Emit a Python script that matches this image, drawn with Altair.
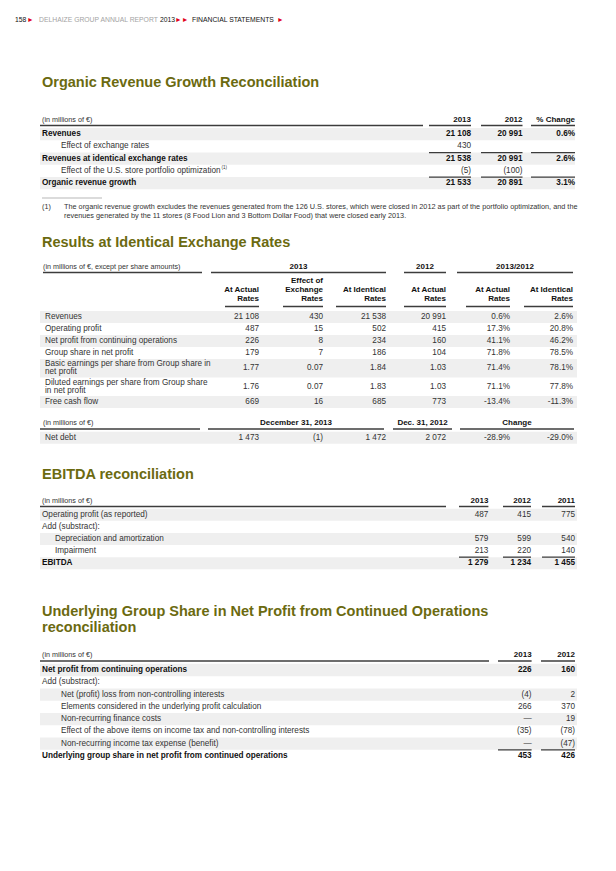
import altair as alt
import pandas as pd

FONT = "Liberation Sans"
OLIVE = "#6b6a10"
RED = "#e3001b"
BAND = "#efefef"
DARK = "#111111"
TXT = "#333333"
LINE = "#3c3c3c"

# ---------------- data ----------------
hdr_pieces = ["158", "►", "DELHAIZE GROUP ANNUAL REPORT", "2013", "►►", "FINANCIAL STATEMENTS", "►"]
hdr_colors = [DARK, RED, "#a3a3a3", DARK, RED, DARK, RED]

titles = ["Organic Revenue Growth Reconciliation",
          "Results at Identical Exchange Rates",
          "EBITDA reconciliation",
          "Underlying Group Share in Net Profit from Continued Operations",
          "reconciliation"]

# Table 1 : organic revenue growth
t1_cols = ["2013", "2012", "% Change"]
t1_labels = ["Revenues", "Effect of exchange rates", "Revenues at identical exchange rates",
             "Effect of the U.S. store portfolio optimization", "Organic revenue growth"]
t1_bold = [1, 0, 1, 0, 1]
t1_2013 = ["21 108", "430", "21 538", "(5)", "21 533"]
t1_2012 = ["20 991", "", "20 991", "(100)", "20 891"]
t1_chg = ["0.6%", "", "2.6%", "", "3.1%"]
foot_lines = ["The organic revenue growth excludes the revenues generated from the 126 U.S. stores, which were closed in 2012 as part of the portfolio optimization, and the",
              "revenues generated by the 11 stores (8 Food Lion and 3 Bottom Dollar Food) that were closed early 2013."]

# Table 2 : results at identical exchange rates
t2_groups = ["2013", "2012", "2013/2012"]
t2_sub = [["At Actual", "Rates"], ["Effect of", "Exchange", "Rates"], ["At Identical", "Rates"],
          ["At Actual", "Rates"], ["At Actual", "Rates"], ["At Identical", "Rates"]]
t2_labels = ["Revenues", "Operating profit", "Net profit from continuing operations",
             "Group share in net profit",
             "Basic earnings per share from Group share in\nnet profit",
             "Diluted earnings per share from Group share\nin net profit",
             "Free cash flow"]
t2_actual13 = ["21 108", "487", "226", "179", "1.77", "1.76", "669"]
t2_effect = ["430", "15", "8", "7", "0.07", "0.07", "16"]
t2_ident13 = ["21 538", "502", "234", "186", "1.84", "1.83", "685"]
t2_actual12 = ["20 991", "415", "160", "104", "1.03", "1.03", "773"]
t2_chg_act = ["0.6%", "17.3%", "41.1%", "71.8%", "71.4%", "71.1%", "-13.4%"]
t2_chg_ident = ["2.6%", "20.8%", "46.2%", "78.5%", "78.1%", "77.8%", "-11.3%"]
nd_groups = ["December 31, 2013", "Dec. 31, 2012", "Change"]
nd_label = "Net debt"
nd_values = ["1 473", "(1)", "1 472", "2 072", "-28.9%", "-29.0%"]

# Table 3 : EBITDA
t3_cols = ["2013", "2012", "2011"]
t3_labels = ["Operating profit (as reported)", "Add (substract):", "Depreciation and amortization",
             "Impairment", "EBITDA"]
t3_bold = [0, 0, 0, 0, 1]
t3_indent = [0, 0, 1, 1, 0]
t3_2013 = ["487", "", "579", "213", "1 279"]
t3_2012 = ["415", "", "599", "220", "1 234"]
t3_2011 = ["775", "", "540", "140", "1 455"]

# Table 4 : underlying group share
t4_cols = ["2013", "2012"]
t4_labels = ["Net profit from continuing operations", "Add (substract):",
             "Net (profit) loss from non-controlling interests",
             "Elements considered in the underlying profit calculation",
             "Non-recurring finance costs",
             "Effect of the above items on income tax and non-controlling interests",
             "Non-recurring income tax expense (benefit)",
             "Underlying group share in net profit from continued operations"]
t4_bold = [1, 0, 0, 0, 0, 0, 0, 1]
t4_indent = [0, 0, 1, 1, 1, 1, 1, 0]
t4_2013 = ["226", "", "(4)", "266", "—", "(35)", "—", "453"]
t4_2012 = ["160", "", "2", "370", "19", "(78)", "(47)", "426"]

# ---------------- layout ----------------
texts, rules, rects = [], [], []


def T(x, y, s, size=8.2, color=TXT, align="left", weight="normal"):
    texts.append(dict(x=x, y=y, text=s, size=size, color=color, align=align, weight=weight))


def R(x, x2, y, w=1.5, color=LINE):
    rules.append(dict(x=x, x2=x2, y=y, w=w, color=color))


def B(x, x2, y, y2, color=BAND):
    rects.append(dict(x=x, x2=x2, y=y, y2=y2, color=color))


# page header
hdr_x = [15, 27, 39, 160, 175, 192, 277]
for s, c, x in zip(hdr_pieces, hdr_colors, hdr_x):
    T(x, 20, s, 6.8, c)

LX = 42
title_y = [83, 243, 475, 612, 628]
for s, y in zip(titles, title_y):
    T(LX, y, s, 14.5, OLIVE, weight="bold")

# ---- table 1
r1 = [471, 522.5, 575]
l1 = [429, 481, 531]
T(LX, 120, "(in millions of €)", 7.2)
for s, x in zip(t1_cols, r1):
    T(x, 120, s, 8, DARK, "right", "bold")
R(40, 423, 125.5)
for a, b in zip(l1, r1):
    R(a, b, 125.5)
y0, st = 134.2, 12.25
for i, lab in enumerate(t1_labels):
    y = y0 + i * st
    bold = t1_bold[i] == 1
    if bold:
        B(40, 575, y - st / 2, y + st / 2)
    col = DARK if bold else TXT
    w = "bold" if bold else "normal"
    T(LX if bold else 61, y, lab, 8.2, col, "left", w)
    for v, x in zip([t1_2013[i], t1_2012[i], t1_chg[i]], r1):
        if v:
            T(x, y, v, 8.2, col, "right", w)
T(221.5, y0 + 3 * st - 3, "(1)", 4.5)
for k in (1, 3):
    ys = y0 + (k + 0.5) * st
    for a, b in zip(l1, r1):
        R(a, b, ys, 1.3)
R(42, 102, 198, 0.6, "#888888")
T(LX, 207, "(1)", 7.2)
T(64, 207, foot_lines[0], 7.3)
T(64, 215.5, foot_lines[1], 7.3)

# ---- table 2
r2 = [259, 323, 386, 446, 510, 573]
sl2 = [225, 283, 336, 404, 466, 524]
T(43, 267, "(in millions of €, except per share amounts)", 7.2)
g2 = [(211, 386), (404, 446), (457, 573)]
for s, (a, b) in zip(t2_groups, g2):
    T((a + b) / 2, 267, s, 8, DARK, "center", "bold")
    R(a, b, 272.5)
R(43, 202, 272.5)
for j, lines in enumerate(t2_sub):
    n = len(lines)
    for k, s in enumerate(lines):
        T(r2[j], 299 - (n - 1 - k) * 9, s, 8, DARK, "right", "bold")
    R(sl2[j], r2[j], 306.5)
heights = [12, 12, 12, 12, 18.5, 18.5, 12]
top = 311
cols2 = [t2_actual13, t2_effect, t2_ident13, t2_actual12, t2_chg_act, t2_chg_ident]
for i, lab in enumerate(t2_labels):
    h = heights[i]
    yc = top + h / 2
    if i % 2 == 0:
        B(40, 577, top, top + h)
    parts = lab.split("\n")
    for k, s in enumerate(parts):
        T(45, yc + (k - (len(parts) - 1) / 2) * 8.2, s)
    for c, x in zip(cols2, r2):
        T(x, yc, c[i], 8.2, TXT, "right")
    top += h

T(43, 423, "(in millions of €)", 7.2)
gnd = [(208, 384), (393, 452), (460, 574)]
for s, (a, b) in zip(nd_groups, gnd):
    T((a + b) / 2, 423, s, 8, DARK, "center", "bold")
    R(a, b, 429)
R(40, 200, 429)
B(40, 577, 431.7, 443.7)
T(45, 437.7, nd_label)
for v, x in zip(nd_values, r2):
    T(x, 437.7, v, 8.2, TXT, "right")

# ---- table 3
r3 = [488.4, 531, 575]
l3 = [459, 503, 542]
T(LX, 501, "(in millions of €)", 7.2)
for s, x in zip(t3_cols, r3):
    T(x, 501, s, 8, DARK, "right", "bold")
R(40, 446, 506.5)
for a, b in zip(l3, r3):
    R(a, b, 506.5)
y0, st = 514.8, 12.1
for i, lab in enumerate(t3_labels):
    y = y0 + i * st
    bold = t3_bold[i] == 1
    if i % 2 == 0:
        B(40, 577, y - st / 2, y + st / 2)
    col = DARK if bold else TXT
    w = "bold" if bold else "normal"
    T(55 if t3_indent[i] else LX, y, lab, 8.2, col, "left", w)
    for v, x in zip([t3_2013[i], t3_2012[i], t3_2011[i]], r3):
        if v:
            T(x, y, v, 8.2, col, "right", w)
for a, b in zip(l3, r3):
    R(a, b, y0 + 3.5 * st, 1.3)

# ---- table 4
r4 = [531.6, 575]
l4 = [498, 541]
T(LX, 655, "(in millions of €)", 7.2)
for s, x in zip(t4_cols, r4):
    T(x, 655, s, 8, DARK, "right", "bold")
R(40, 489, 661)
for a, b in zip(l4, r4):
    R(a, b, 661)
y0, st = 670, 12.28
for i, lab in enumerate(t4_labels):
    y = y0 + i * st
    bold = t4_bold[i] == 1
    if i % 2 == 0:
        B(40, 577, y - st / 2, y + st / 2)
    col = DARK if bold else TXT
    w = "bold" if bold else "normal"
    T(61 if t4_indent[i] else LX, y, lab, 8.2, col, "left", w)
    for v, x in zip([t4_2013[i], t4_2012[i]], r4):
        if v:
            T(x, y, v, 8.2, col, "right", w)
for a, b in zip(l4, r4):
    R(a, b, y0 + 6.5 * st, 1.3)

# ---------------- chart ----------------
XS = alt.Scale(domain=[8, 608], range=[0, 600])
YS = alt.Scale(domain=[8, 863], range=[0, 855])

tdf = pd.DataFrame(texts)
rdf = pd.DataFrame(rules)
bdf = pd.DataFrame(rects)

band_layer = alt.Chart(bdf).mark_rect().encode(
    x=alt.X("x:Q", scale=XS, axis=None), x2="x2:Q",
    y=alt.Y("y:Q", scale=YS, axis=None), y2="y2:Q",
    color=alt.Color("color:N", scale=None))

rule_layer = alt.Chart(rdf).mark_rule().encode(
    x=alt.X("x:Q", scale=XS, axis=None), x2="x2:Q",
    y=alt.Y("y:Q", scale=YS, axis=None),
    strokeWidth=alt.StrokeWidth("w:Q", scale=None),
    color=alt.Color("color:N", scale=None))

layers = [band_layer, rule_layer]
for (al, wt), g in tdf.groupby(["align", "weight"]):
    layers.append(
        alt.Chart(g.reset_index(drop=True)).mark_text(
            align=al, baseline="middle", font=FONT, fontWeight=wt).encode(
            x=alt.X("x:Q", scale=XS, axis=None),
            y=alt.Y("y:Q", scale=YS, axis=None),
            text="text:N",
            size=alt.Size("size:Q", scale=None),
            color=alt.Color("color:N", scale=None)))

chart = alt.layer(*layers).properties(
    width=600, height=855,
    autosize=alt.AutoSizeParams(type="none"),
    padding=0,
    background="white",
).configure_view(stroke=None)

chart.save("out.html", embed_options={"renderer": "svg", "actions": False})
